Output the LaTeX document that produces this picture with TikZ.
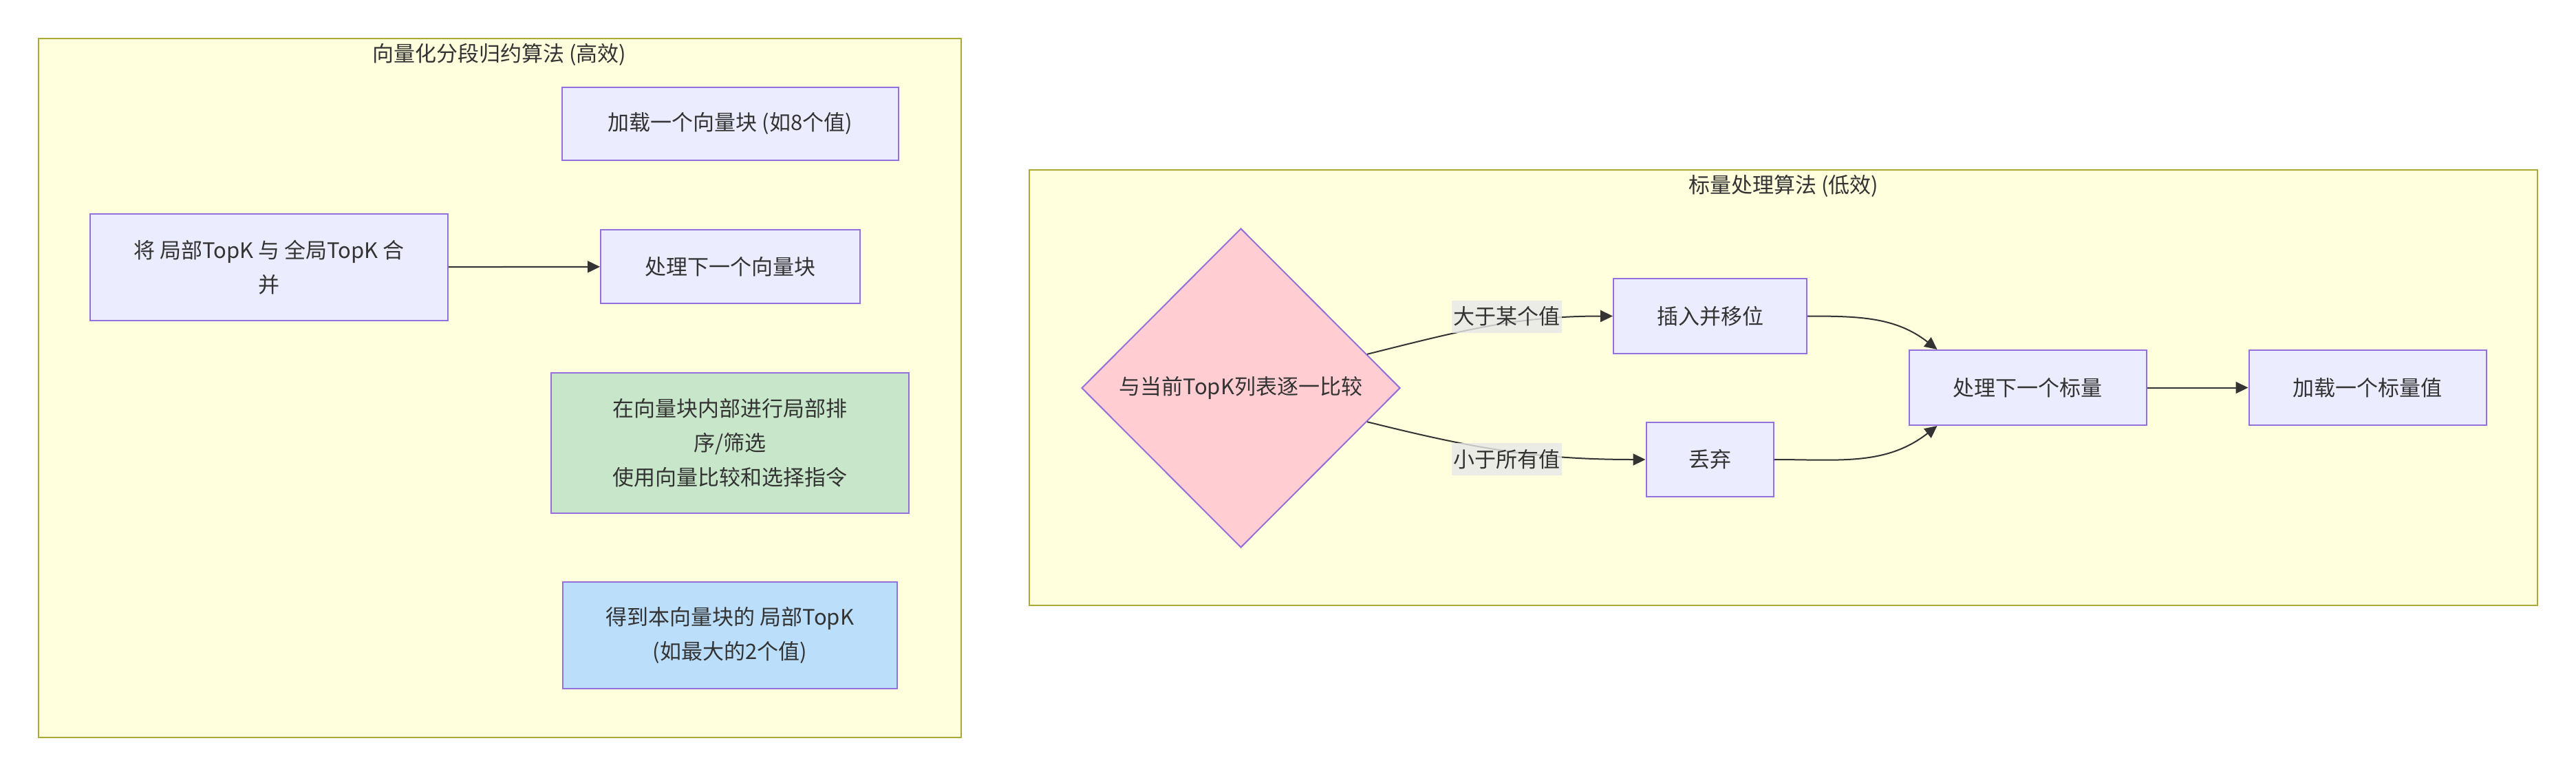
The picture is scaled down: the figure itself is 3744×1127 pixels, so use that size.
\documentclass[tikz,border=0pt]{standalone}
\usepackage{fontspec}
\setmainfont{Noto Sans CJK SC}
\usetikzlibrary{shapes.geometric,arrows.meta,calc}

\definecolor{clfill}{HTML}{FFFFDE}
\definecolor{cldraw}{HTML}{AAAA33}
\definecolor{ndfill}{HTML}{ECECFF}
\definecolor{nddraw}{HTML}{9370DB}
\definecolor{txt}{HTML}{333333}
\definecolor{pinkfill}{HTML}{FFCDD2}
\definecolor{greenfill}{HTML}{C8E6C9}
\definecolor{bluefill}{HTML}{BBDEFB}
\definecolor{labfill}{HTML}{E8E8E8}

\begin{document}
\begin{tikzpicture}[x=1pt,y=-1pt,
  font=\fontsize{31}{50}\selectfont, text=txt,
  clus/.style={draw=cldraw,fill=clfill,line width=2pt,inner sep=0pt},
  box/.style={draw=nddraw,fill=ndfill,line width=2pt,align=center,inner sep=0pt},
  dec/.style={diamond,draw=nddraw,fill=pinkfill,line width=2pt,inner sep=0pt,
              minimum width=463pt,minimum height=464pt},
  lab/.style={fill=labfill,fill opacity=0.8,text opacity=1,inner sep=0pt,
              minimum width=160pt,minimum height=47pt},
  ar/.style={-{Triangle[length=18pt,width=17pt]},line width=2pt,draw=txt}
]
\useasboundingbox (0,0) rectangle (3744,1127);

% vectorised segment reduction
\node[clus,minimum width=1341.5pt,minimum height=1016pt] (vec) at (726.25,564) {};
\node (vectitle) at (726,79) {向量化分段归约算法 (高效)};
\node[box,minimum width=489pt,minimum height=106pt] (vload) at (1061.5,179.5) {加载一个向量块 (如8个值)};
\node[box,minimum width=520pt,minimum height=155pt] (merge) at (391,388.5) {将 局部TopK 与 全局TopK 合\\并};
\node[box,minimum width=377pt,minimum height=107pt] (vnext) at (1061.5,387.5) {处理下一个向量块};
\node[box,fill=greenfill,minimum width=520pt,minimum height=204pt] (vsort) at (1061,644)
  {在向量块内部进行局部排\\序/筛选\\使用向量比较和选择指令};
\node[box,fill=bluefill,minimum width=486pt,minimum height=155pt] (vlocal) at (1061,923.5)
  {得到本向量块的 局部TopK\\(如最大的2个值)};

\draw[ar] (merge) -- (vnext);

% scalar processing
\node[clus,minimum width=2192pt,minimum height=633pt] (sca) at (2592,563.5) {};
\node (scatitle) at (2592,270) {标量处理算法 (低效)};
\node[dec] (cmp) at (1803.5,564) {与当前TopK列表逐一比较};
\node[box,minimum width=281pt,minimum height=109pt] (ins) at (2485.5,459.5) {插入并移位};
\node[box,minimum width=185pt,minimum height=108pt] (drop) at (2485,668) {丢弃};
\node[box,minimum width=345pt,minimum height=109pt] (snext) at (2947,563.5) {处理下一个标量};
\node[box,minimum width=345pt,minimum height=109pt] (sload) at (3441,563.5) {加载一个标量值};

\draw[ar] (cmp.15) to[out=14,in=180] (ins.west);
\draw[ar] (cmp.-15) to[out=-14,in=180] (drop.west);
\node[lab] (gt) at (2190,460) {大于某个值};
\node[lab] (lt) at (2190,667.5) {小于所有值};
\draw[ar] (ins.east) to[out=0,in=142] ($(snext.north west)+(42,0)$);
\draw[ar] (drop.east) to[out=0,in=-142] ($(snext.south west)+(42,0)$);
\draw[ar] (snext) -- (sload);
\end{tikzpicture}
\end{document}
